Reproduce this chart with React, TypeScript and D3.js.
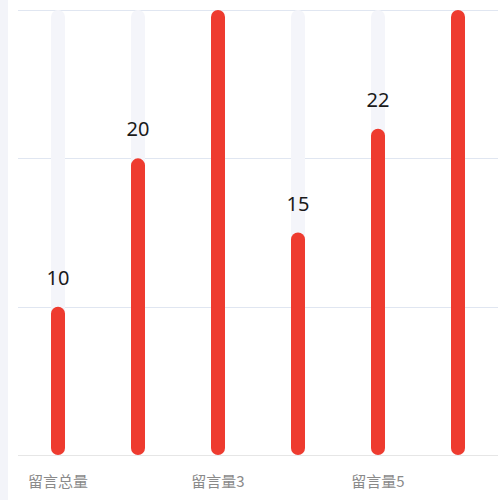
import { useEffect, useRef } from "react";
import * as d3 from "d3";

const categories = ["留言总量", "留言量2", "留言量3", "留言量4", "留言量5", "留言量6"];
const values = [10, 20, 30, 15, 22, 30];
const yTicks = [0, 10, 20, 30];

const width = 500;
const height = 500;
const margin = { top: 10, right: 2, bottom: 45, left: 18 };

export default function App() {
  const svgRef = useRef<SVGSVGElement>(null);

  useEffect(() => {
    if (!svgRef.current) return;
    const svg = d3.select(svgRef.current);
    svg.selectAll("*").remove();

    const innerWidth = width - margin.left - margin.right;
    const innerHeight = height - margin.top - margin.bottom;

    // left strip
    svg.append("rect").attr("x", 0).attr("y", 0).attr("width", 8).attr("height", height).attr("fill", "#f3f4f9");

    const x = d3.scaleBand<string>().domain(categories).range([0, 480]);
    const y = d3.scaleLinear().domain([0, 30]).range([innerHeight, 0]);

    const g = svg.append("g").attr("transform", `translate(${margin.left},${margin.top})`);

    // grid lines
    g.selectAll(".grid")
      .data(yTicks)
      .join("line")
      .attr("x1", 0)
      .attr("x2", innerWidth)
      .attr("y1", (d) => Math.round(y(d)) + 0.5)
      .attr("y2", (d) => Math.round(y(d)) + 0.5)
      .attr("stroke", (d) => (d === 0 ? "#e6e6e6" : "#e0e6f1"))
      .attr("stroke-width", 1);

    const bw = 14;
    const r = bw / 2;

    const roundBar = (x0: number, top: number, bottom: number) => {
      const h = bottom - top;
      const rr = Math.min(r, h / 2);
      return `M${x0},${top + rr} A${rr},${rr} 0 0 1 ${x0 + bw},${top + rr} L${x0 + bw},${bottom - rr} A${rr},${rr} 0 0 1 ${x0},${bottom - rr} Z`;
    };

    // background bars
    g.selectAll(".bg")
      .data(categories)
      .join("path")
      .attr("d", (d) => {
        const cx = (x(d) as number) + x.bandwidth() / 2;
        return roundBar(cx - r, y(30), y(0));
      })
      .attr("fill", "#f4f5fa");

    // value bars
    g.selectAll(".bar")
      .data(values)
      .join("path")
      .attr("d", (d, i) => {
        const cx = (x(categories[i]) as number) + x.bandwidth() / 2;
        return roundBar(cx - r, y(d), y(0));
      })
      .attr("fill", "#ee3b2f");

    // value labels (those for full-height bars fall outside the view)
    g.selectAll(".val")
      .data(values.map((v, i) => ({ v, c: categories[i] })).filter((d) => d.v < 30))
      .join("text")
      .attr("x", (d) => (x(d.c) as number) + x.bandwidth() / 2)
      .attr("y", (d) => y(d.v) - 22)
      .attr("text-anchor", "middle")
      .attr("font-family", "'Noto Sans', sans-serif")
      .attr("font-size", 20)
      .attr("fill", "#1a1a1a")
      .text((d) => d.v);

    // x axis labels (every other)
    g.selectAll(".xl")
      .data(categories.filter((_, i) => i % 2 === 0))
      .join("text")
      .attr("x", (d) => (x(d) as number) + x.bandwidth() / 2)
      .attr("y", innerHeight + 32)
      .attr("text-anchor", "middle")
      .attr("font-family", "'Noto Sans CJK SC', sans-serif")
      .attr("font-size", 15)
      .attr("fill", "#8a8a8a")
      .text((d) => d);
  }, []);

  return (
    <svg
      ref={svgRef}
      width={width}
      height={height}
      style={{ position: "absolute", left: 0, top: 0, background: "#fff" }}
    />
  );
}
